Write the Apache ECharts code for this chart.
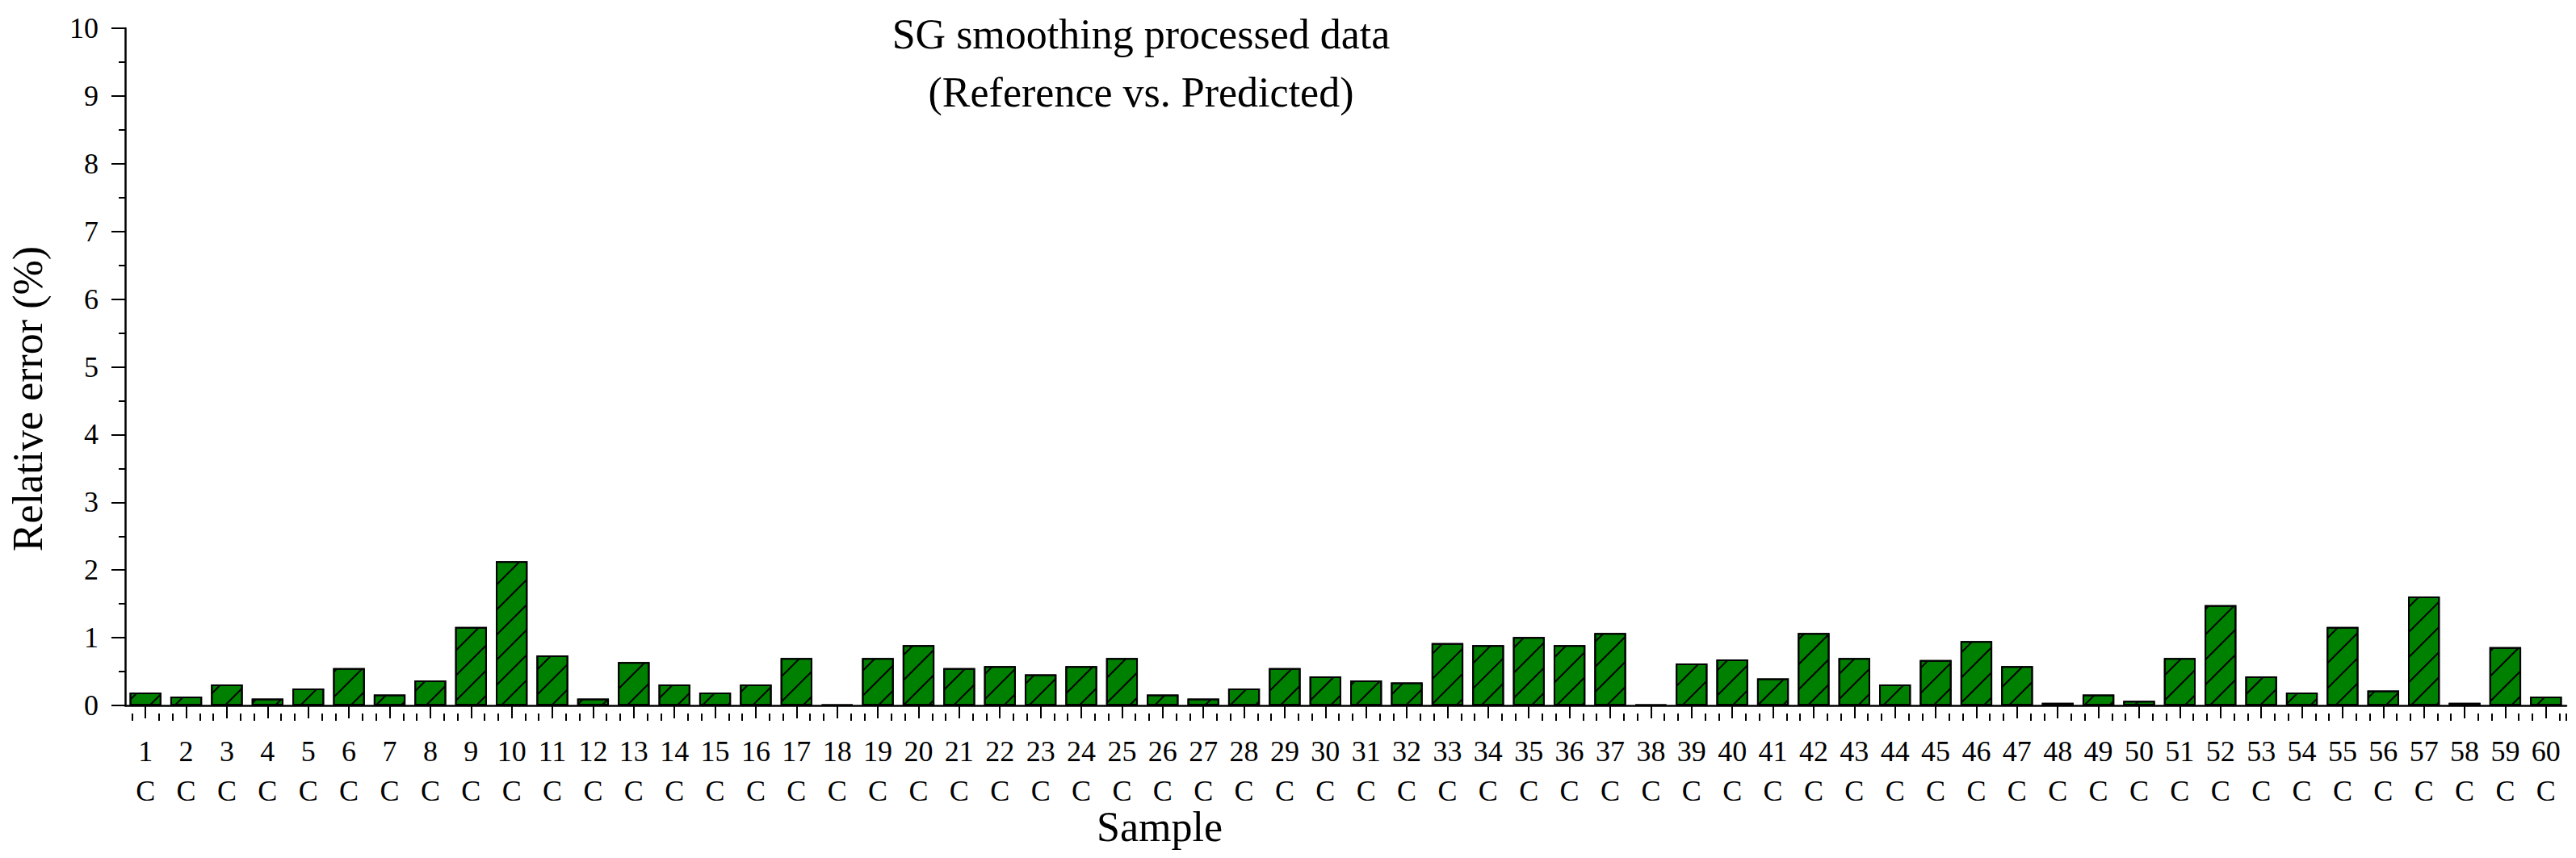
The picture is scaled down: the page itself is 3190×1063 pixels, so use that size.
<!DOCTYPE html>
<html>
<head>
<meta charset="utf-8">
<script src="https://cdn.jsdelivr.net/npm/echarts@6/dist/echarts.min.js"></script>
<style>
  html, body { margin: 0; padding: 0; background: #ffffff; }
  #chart { width: 3190px; height: 1063px; }
</style>
</head>
<body>
<div id="chart"></div>
<script>
// ---- data ----
const sampleIds = ['1','2','3','4','5','6','7','8','9','10',
  '11','12','13','14','15','16','17','18','19','20',
  '21','22','23','24','25','26','27','28','29','30',
  '31','32','33','34','35','36','37','38','39','40',
  '41','42','43','44','45','46','47','48','49','50',
  '51','52','53','54','55','56','57','58','59','60'];
const sampleTypes = ['C','C','C','C','C','C','C','C','C','C',
  'C','C','C','C','C','C','C','C','C','C',
  'C','C','C','C','C','C','C','C','C','C',
  'C','C','C','C','C','C','C','C','C','C',
  'C','C','C','C','C','C','C','C','C','C',
  'C','C','C','C','C','C','C','C','C','C'];
const relativeError = [
  0.19, 0.13, 0.31, 0.10, 0.25, 0.55, 0.16, 0.37, 1.16, 2.13,
  0.74, 0.10, 0.64, 0.31, 0.19, 0.31, 0.70, 0.01, 0.70, 0.89,
  0.55, 0.58, 0.46, 0.58, 0.70, 0.16, 0.10, 0.25, 0.55, 0.43,
  0.37, 0.34, 0.92, 0.89, 1.01, 0.89, 1.07, 0.01, 0.62, 0.68,
  0.40, 1.07, 0.70, 0.31, 0.67, 0.95, 0.58, 0.04, 0.16, 0.07,
  0.70, 1.48, 0.43, 0.19, 1.16, 0.22, 1.61, 0.04, 0.86, 0.13];
const yTicks = [0, 1, 2, 3, 4, 5, 6, 7, 8, 9, 10];
const titleLines = ['SG smoothing processed data', '(Reference vs. Predicted)'];
const xName = 'Sample';
const yName = 'Relative error (%)';

// helper axis: 6 sub-bands per sample, used only to draw the minor ticks at 1/3 and 2/3
const subBands = Array.from({ length: sampleIds.length * 6 }, () => '');

const FONT = "'Liberation Serif', 'Times New Roman', serif";
const labels = sampleIds.map((id, i) => id + '\n' + sampleTypes[i]);

const chart = echarts.init(document.getElementById('chart'), null, { renderer: 'svg' });

chart.setOption({
  animation: false,
  backgroundColor: '#ffffff',
  grid: { left: 155, right: 12, top: 35, bottom: 189, containLabel: false, outerBoundsMode: 'none' },
  graphic: [
    {
      type: 'text', x: 1413, y: 6,
      style: {
        text: titleLines.join('\n'), align: 'center', verticalAlign: 'top',
        font: '52px ' + FONT, lineHeight: 72, fill: '#000'
      }
    },
    {
      type: 'text', x: 1436, y: 1024,
      style: { text: xName, align: 'center', verticalAlign: 'middle', font: '52px ' + FONT, fill: '#000' }
    },
    {
      type: 'text', x: 34, y: 494, rotation: Math.PI / 2,
      style: { text: yName, align: 'center', verticalAlign: 'middle', font: '52px ' + FONT, fill: '#000' }
    }
  ],
  xAxis: [
    {
      type: 'category', position: 'bottom', offset: 10,
      data: labels, boundaryGap: true,
      axisLine: { show: true, lineStyle: { color: '#000', width: 2.5 } },
      axisTick: { show: true, interval: 0, alignWithLabel: true, length: 16, lineStyle: { color: '#000', width: 2 } },
      axisLabel: { show: true, interval: 0, margin: 22, color: '#000', fontFamily: FONT, fontSize: 36, lineHeight: 49 },
      splitLine: { show: false }
    },
    {
      type: 'category', position: 'bottom', offset: 10,
      data: subBands, boundaryGap: true,
      axisLine: { show: false },
      axisTick: { show: true, interval: (i) => (i % 6 === 1 || i % 6 === 5), length: 9, lineStyle: { color: '#000', width: 2 } },
      axisLabel: { show: false },
      splitLine: { show: false }
    }
  ],
  yAxis: {
    type: 'value', min: yTicks[0], max: yTicks[yTicks.length - 1], interval: 1,
    axisLine: { show: true, lineStyle: { color: '#000', width: 2.5 } },
    axisTick: { show: true, inside: false, length: 17, lineStyle: { color: '#000', width: 2 } },
    minorTick: { show: true, splitNumber: 2, length: 8, lineStyle: { color: '#000', width: 2 } },
    axisLabel: { show: true, margin: 33, color: '#000', fontFamily: FONT, fontSize: 36,
      formatter: (v) => (yTicks.indexOf(v) >= 0 ? String(v) : '') },
    splitLine: { show: false },
    minorSplitLine: { show: false }
  },
  series: [{
    type: 'bar',
    xAxisIndex: 0,
    data: relativeError,
    barWidth: '78%',
    itemStyle: {
      color: '#008000',
      borderColor: '#000',
      borderWidth: 2,
      decal: {
        symbol: 'rect', symbolSize: 1,
        dashArrayX: [1, 0], dashArrayY: [2, 20],
        rotation: -Math.PI / 4,
        color: '#000'
      }
    }
  }]
});
</script>
</body>
</html>
